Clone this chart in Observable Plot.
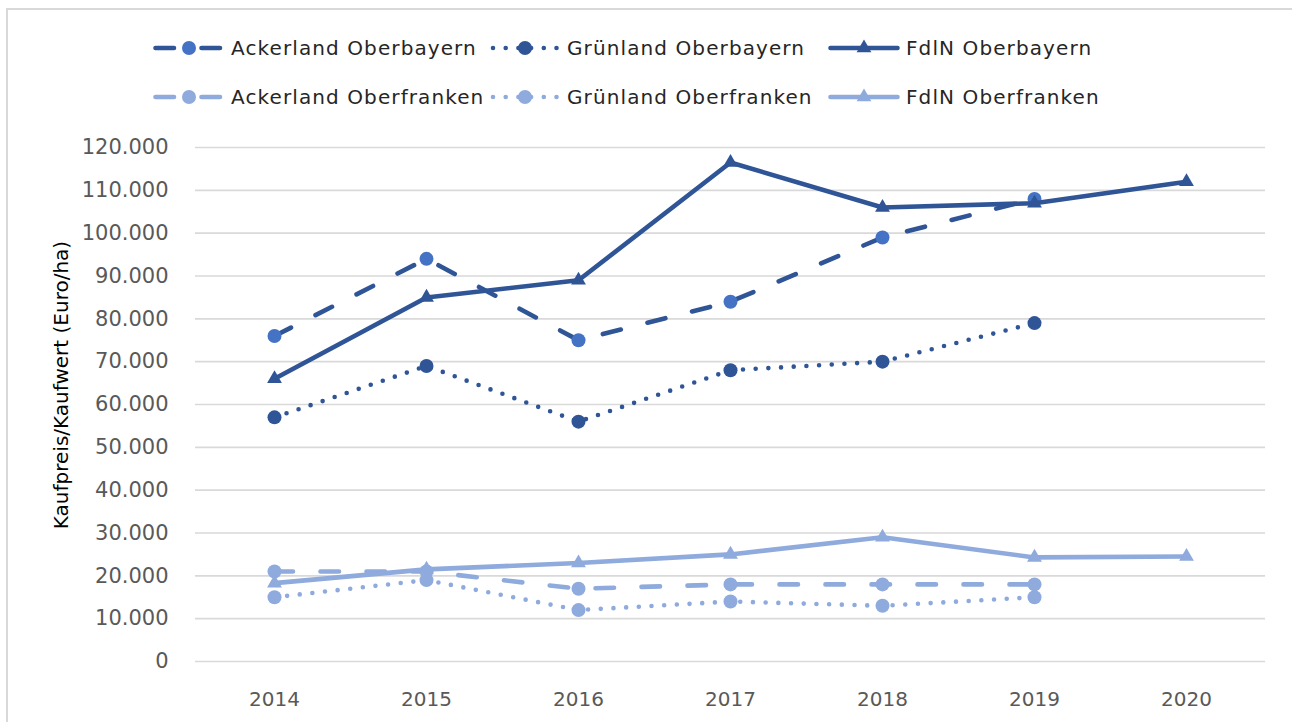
<!DOCTYPE html>
<html>
<head>
<meta charset="utf-8">
<script src="https://cdn.jsdelivr.net/npm/d3@7"></script>
<script src="https://cdn.jsdelivr.net/npm/@observablehq/plot@0.6"></script>
<style>
  html, body { margin: 0; padding: 0; background: #fff; }
  #wrap { position: relative; width: 1292px; height: 722px; overflow: hidden; font-family: "DejaVu Sans", sans-serif; }
  #frame { position: absolute; left: 6px; top: 8px; width: 1400px; height: 800px; border-top: 2px solid #d9d9d9; border-left: 2px solid #d9d9d9; }
  #legend { position: relative; height: 120px; }
  .item { position: absolute; display: flex; align-items: center; height: 30px; }
  .item span { font-size: 20px; color: #262626; letter-spacing: 1.1px; white-space: nowrap; margin-left: 6px; }
  #ylabel { position: absolute; left: 61px; top: 385px; transform: translate(-50%, -50%) rotate(-90deg); font-size: 20px; color: #000; white-space: nowrap; }
  #chart svg text { fill: #595959; }
</style>
</head>
<body>
<div id="wrap">
  <div id="frame"></div>
  <div id="legend"></div>
  <div id="chart"></div>
  <div id="ylabel">Kaufpreis/Kaufwert (Euro/ha)</div>
</div>
<script>
// ---- data ----
const years = ["2014", "2015", "2016", "2017", "2018", "2019", "2020"];
const yTicks = [0, 10000, 20000, 30000, 40000, 50000, 60000, 70000, 80000, 90000, 100000, 110000, 120000];

const ackerlandOberbayern = [76000, 94000, 75000, 84000, 99000, 108000, null];
const gruenlandOberbayern = [57000, 69000, 56000, 68000, 70000, 79000, null];
const fdlnOberbayern      = [66000, 85000, 89000, 116500, 106000, 107000, 112000];
const ackerlandOberfranken = [21000, 21000, 17000, 18000, 18000, 18000, null];
const gruenlandOberfranken = [15000, 19000, 12000, 14000, 13000, 15000, null];
const fdlnOberfranken      = [18300, 21500, 23000, 25000, 29000, 24300, 24500];

const seriesNames = [
  "Ackerland Oberbayern", "Grünland Oberbayern", "FdlN Oberbayern",
  "Ackerland Oberfranken", "Grünland Oberfranken", "FdlN Oberfranken"
];
const seriesValues = [
  ackerlandOberbayern, gruenlandOberbayern, fdlnOberbayern,
  ackerlandOberfranken, gruenlandOberfranken, fdlnOberfranken
];

// ---- styles ----
const DARK = "#2F5597", MID = "#4472C4", LIGHT = "#8FAADC";
const DASH = "18.5,27.5", DOT = "0,12.7";
const styles = [
  {stroke: DARK, markFill: MID, dash: DASH, symbol: "circle"},
  {stroke: DARK, markFill: DARK, dash: DOT, symbol: "circle"},
  {stroke: DARK, markFill: DARK, dash: null, symbol: "triangle"},
  {stroke: LIGHT, markFill: LIGHT, dash: DASH, symbol: "circle"},
  {stroke: LIGHT, markFill: LIGHT, dash: DOT, symbol: "circle"},
  {stroke: LIGHT, markFill: LIGHT, dash: null, symbol: "triangle"}
];
const SW = 4.6;

// ---- legend ----
const legendPos = [
  {x: 153, y: 33}, {x: 489, y: 33}, {x: 828, y: 33},
  {x: 153, y: 82}, {x: 489, y: 82}, {x: 828, y: 82}
];
const legend = document.getElementById("legend");
seriesNames.forEach((name, i) => {
  const st = styles[i];
  const div = document.createElement("div");
  div.className = "item";
  div.style.left = legendPos[i].x + "px";
  div.style.top = legendPos[i].y + "px";
  const w = 72, h = 30;
  let marker;
  if (st.symbol === "circle") {
    marker = `<circle cx="${w/2}" cy="${h/2}" r="7" fill="${st.markFill}"/>`;
  } else {
    marker = `<path d="${d3.symbol(d3.symbolTriangle, Math.PI*30)()}" transform="translate(${w/2},${h/2})" fill="${st.markFill}"/>`;
  }
  const dashAttr = st.dash ? `stroke-dasharray="${st.dash}"` : "";
  div.innerHTML = `<svg width="${w}" height="${h}"><line x1="${st.dash===DOT?4:2.5}" x2="${w-2.5}" y1="${h/2}" y2="${h/2}" stroke="${st.stroke}" stroke-width="${SW}" stroke-linecap="round" ${dashAttr}/>${marker}</svg><span>${name}</span>`;
  legend.appendChild(div);
});

// ---- chart ----
const de = d3.formatLocale({decimal: ",", thousands: ".", grouping: [3], currency: ["", " €"]});
const fmt = de.format(",d");

const marks = [
  Plot.gridY(yTicks, {stroke: "#d9d9d9", strokeOpacity: 1, strokeWidth: 1.6}),
  Plot.axisY(yTicks, {tickSize: 0, tickPadding: 27, tickFormat: fmt, label: null, fontSize: 21}),
  Plot.axisX({tickSize: 0, tickPadding: 30, label: null, fontSize: 20})
];
seriesValues.forEach((vals, i) => {
  const st = styles[i];
  const data = years.map((y, j) => ({year: y, value: vals[j]})).filter(d => d.value != null);
  marks.push(Plot.line(data, {
    x: "year", y: "value", stroke: st.stroke, strokeWidth: SW,
    strokeDasharray: st.dash || undefined, strokeLinecap: "round", strokeLinejoin: "round"
  }));
  marks.push(Plot.dot(data, {
    x: "year", y: "value", symbol: st.symbol, r: st.symbol === "circle" ? 7 : 5.5,
    fill: st.markFill, stroke: "none"
  }));
});

const chart = Plot.plot({
  width: 1292,
  height: 602,
  marginTop: 27,
  marginBottom: 61,
  marginLeft: 195,
  marginRight: 27,
  style: {fontFamily: "DejaVu Sans, sans-serif", fontSize: "20px", background: "transparent"},
  x: {type: "point", domain: years, padding: 0.5},
  y: {domain: [0, 120000]},
  marks
});
document.getElementById("chart").appendChild(chart);
</script>
</body>
</html>
